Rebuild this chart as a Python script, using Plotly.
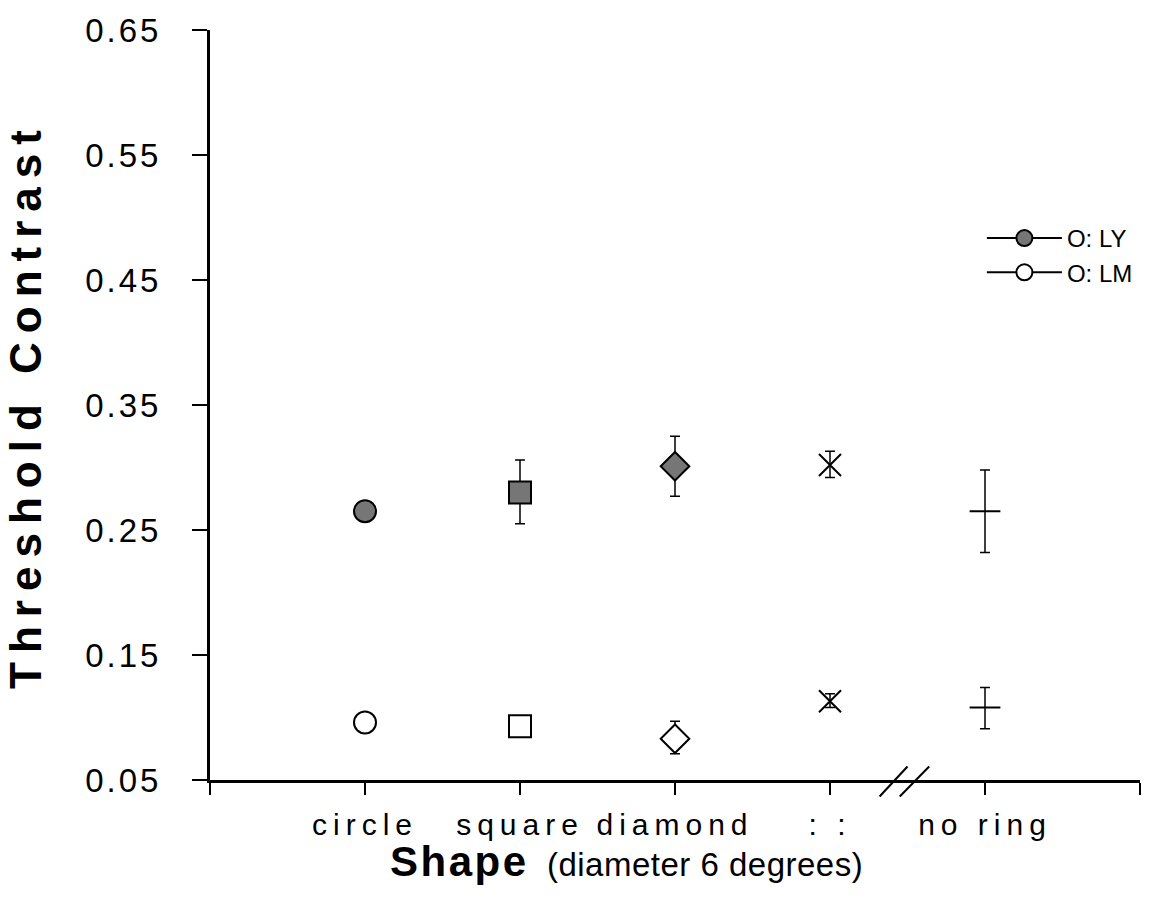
import plotly.graph_objects as go

# ---------------- data ----------------
categories = ["circle", "square", "diamond", ": :", "no ring"]
x_pos = [1, 2, 3, 4, 5]

ly_mean = [0.265, 0.280, 0.301, 0.302, 0.265]
ly_err_plus = [None, 0.026, 0.024, 0.011, 0.033]
ly_err_minus = [None, 0.025, 0.024, 0.010, 0.033]

lm_mean = [0.096, 0.093, 0.083, 0.113, 0.108]
lm_err_plus = [None, None, 0.014, 0.006, 0.016]
lm_err_minus = [None, None, 0.012, 0.005, 0.017]

y_ticks = [0.05, 0.15, 0.25, 0.35, 0.45, 0.55, 0.65]
y_tick_text = ["0.05", "0.15", "0.25", "0.35", "0.45", "0.55", "0.65"]
x_ticks = [0, 1, 2, 3, 4, 5, 6]
x_tick_text = [""] + categories + [""]

legend_names = ["O: LY", "O: LM"]

# ---------------- styles ----------------
FONT = "Liberation Sans, Arial, Helvetica, sans-serif"
GRAY = "#767676"
ly_symbols = ["circle", "square", "diamond", "x-thin", "line-ew"]
ly_colors = [GRAY, GRAY, GRAY, "black", "black"]
lm_symbols = ["circle", "square", "diamond", "x-thin", "line-ew"]
lm_colors = ["white", "white", "white", "black", "black"]

def spaced(t, px):
    return f'<span style="letter-spacing:{px}px">{t}</span>'

fig = go.Figure()

err_style = dict(type="data", symmetric=False, color="black", thickness=1.5, width=5)

fig.add_trace(go.Scatter(
    x=x_pos, y=ly_mean, mode="markers", showlegend=False,
    marker=dict(symbol=ly_symbols, color=ly_colors, size=22,
                line=dict(color="black", width=2)),
    error_y=dict(array=ly_err_plus, arrayminus=ly_err_minus, **err_style),
))
fig.add_trace(go.Scatter(
    x=x_pos, y=lm_mean, mode="markers", showlegend=False,
    marker=dict(symbol=lm_symbols, color=lm_colors, size=22,
                line=dict(color="black", width=2)),
    error_y=dict(array=lm_err_plus, arrayminus=lm_err_minus, **err_style),
))

# legend entries
fig.add_trace(go.Scatter(
    x=[None], y=[None], mode="lines+markers", name=legend_names[0],
    line=dict(color="black", width=2),
    marker=dict(symbol="circle", color=GRAY, size=20, line=dict(color="black", width=2)),
))
fig.add_trace(go.Scatter(
    x=[None], y=[None], mode="lines+markers", name=legend_names[1],
    line=dict(color="black", width=2),
    marker=dict(symbol="circle", color="white", size=20, line=dict(color="black", width=2)),
))

# axis break marks
for x0, x1 in [(4.32, 4.50), (4.45, 4.64)]:
    fig.add_shape(type="line", xref="x", yref="paper", x0=x0, x1=x1, y0=-0.022, y1=0.018,
                  line=dict(color="black", width=2))

# x-axis title (placed as annotation to match the off-centre position)
fig.add_annotation(
    xref="paper", yref="paper", x=0.448, y=-0.108, xanchor="center", yanchor="middle",
    showarrow=False,
    text='<b><span style="font-size:42px;letter-spacing:2.5px">Shape</span></b>'
         '  <span style="font-size:33px;letter-spacing:0.5px">(diameter 6 degrees)</span>',
    font=dict(family=FONT, color="black", size=33),
)

fig.update_layout(
    width=1161, height=906,
    margin=dict(l=210, r=21, t=20, b=126),
    paper_bgcolor="white", plot_bgcolor="white",
    font=dict(family=FONT, color="black"),
    legend=dict(x=0.83, y=0.752, xanchor="left", yanchor="top",
                font=dict(size=24, family=FONT), bgcolor="rgba(0,0,0,0)",
                borderwidth=0, tracegroupgap=0, itemwidth=75),
    xaxis=dict(
        range=[0, 6], tickmode="array", tickvals=x_ticks,
        ticktext=[spaced(t, 6) if t else "" for t in x_tick_text],
        ticks="outside", ticklen=12, tickwidth=2, tickcolor="black",
        showline=True, linecolor="black", linewidth=3, showgrid=False, zeroline=False,
        tickfont=dict(size=30, family=FONT), ticklabelstandoff=4,
    ),
    yaxis=dict(
        range=[0.05, 0.65], tickmode="array", tickvals=y_ticks,
        ticktext=[spaced(t, 3) for t in y_tick_text],
        ticks="outside", ticklen=15, tickwidth=2, tickcolor="black",
        showline=True, linecolor="black", linewidth=3, showgrid=False, zeroline=False,
        tickfont=dict(size=33, family=FONT), ticklabelstandoff=24,
        title=dict(text=spaced("<b>Threshold Contrast</b>", 9), font=dict(size=44, family=FONT),
                   standoff=30),
    ),
)

fig.write_html("out.html")
